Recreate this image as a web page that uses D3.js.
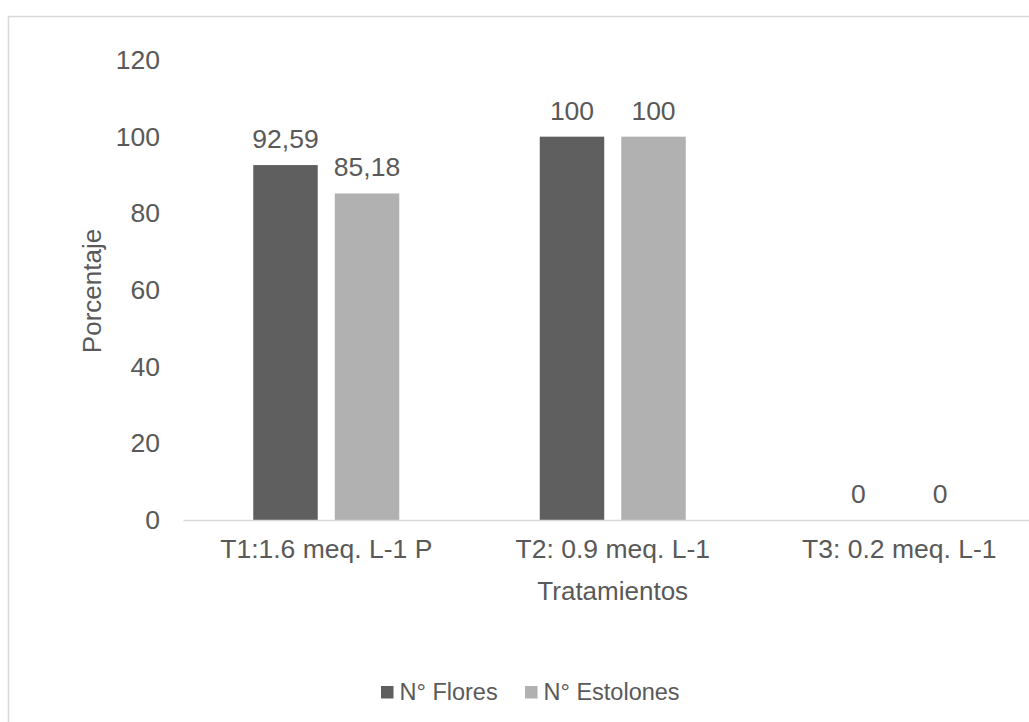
<!DOCTYPE html>
<html>
<head>
<meta charset="utf-8">
<script src="https://cdn.jsdelivr.net/npm/d3@7"></script>
<style>
  html, body { margin: 0; padding: 0; background: #fff; }
  svg { display: block; font-family: "Liberation Sans", Arial, sans-serif; }
</style>
</head>
<body>
<svg id="chart" width="1029" height="722"></svg>
<script>
// Treatments on the x axis
const categories = ["T1:1.6 meq. L-1 P", "T2: 0.9 meq. L-1", "T3: 0.2 meq. L-1"];
// Series and their percentages
const seriesNames = ["N° Flores", "N° Estolones"];
const flores = [92.59, 100, 0];
const estolones = [85.18, 100, 0];
const yTicks = [0, 20, 40, 60, 80, 100, 120];

const colors = ["#5f5f5f", "#b1b1b1"];
const textColor = "#595959";

const svg = d3.select("#chart");

// Chart frame (runs past the right and bottom edges)
svg.append("rect")
  .attr("x", 8.5).attr("y", 16.5)
  .attr("width", 1200).attr("height", 900)
  .attr("fill", "#fff")
  .attr("stroke", "#d9d9d9").attr("stroke-width", 1.5);

const plot = { left: 183, right: 1042.5, top: 60, bottom: 520 };

const x0 = d3.scaleBand().domain(categories).range([plot.left, plot.right]).padding(0);
const groupW = 146;
const x1 = d3.scaleBand().domain(seriesNames)
  .range([(x0.bandwidth() - groupW) / 2, (x0.bandwidth() + groupW) / 2])
  .paddingInner(0.209).paddingOuter(0);
const y = d3.scaleLinear().domain([0, 120]).range([plot.bottom, plot.top]);

const rows = categories.map((c, i) => ({ cat: c, values: [flores[i], estolones[i]] }));
const fmt = v => String(v).replace(".", ",");

// Y axis tick labels (no axis line, no ticks)
const yAxis = svg.append("g")
  .attr("transform", `translate(${plot.left},0)`)
  .call(d3.axisLeft(y).tickValues(yTicks).tickSize(0).tickPadding(23));
yAxis.select(".domain").remove();
yAxis.selectAll("text")
  .attr("fill", textColor).attr("font-size", "26.5px")
  .attr("font-family", "'Liberation Sans', Arial, sans-serif");

// Bars
const groups = svg.append("g").selectAll("g")
  .data(rows).join("g")
  .attr("transform", d => `translate(${x0(d.cat)},0)`);

groups.selectAll("rect")
  .data(d => d.values.map((v, j) => ({ s: seriesNames[j], v, j })))
  .join("rect")
  .attr("x", d => x1(d.s))
  .attr("width", x1.bandwidth())
  .attr("y", d => y(d.v))
  .attr("height", d => y(0) - y(d.v))
  .attr("fill", d => colors[d.j]);

// Value labels above bars
groups.selectAll("text.val")
  .data(d => d.values.map((v, j) => ({ s: seriesNames[j], v, j })))
  .join("text")
  .attr("class", "val")
  .attr("x", d => x1(d.s) + x1.bandwidth() / 2)
  .attr("y", d => y(d.v) - 17)
  .attr("text-anchor", "middle")
  .attr("fill", textColor)
  .attr("font-size", "26.5px")
  .text(d => fmt(d.v));

// X axis baseline and category labels
const xAxis = svg.append("g")
  .attr("transform", `translate(0,${plot.bottom})`)
  .call(d3.axisBottom(x0).tickSize(0).tickPadding(19));
xAxis.select(".domain")
  .attr("stroke", "#d9d9d9").attr("stroke-width", 1.5);
xAxis.selectAll("text")
  .attr("fill", textColor).attr("font-size", "26.5px")
  .attr("font-family", "'Liberation Sans', Arial, sans-serif");

// Axis titles
svg.append("text")
  .attr("x", (plot.left + plot.right) / 2).attr("y", 600)
  .attr("text-anchor", "middle").attr("fill", textColor)
  .attr("font-size", "26px").text("Tratamientos");

svg.append("text")
  .attr("transform", "translate(101,291) rotate(-90)")
  .attr("text-anchor", "middle").attr("fill", textColor)
  .attr("font-size", "26px").text("Porcentaje");

// Legend
const legendItems = [
  { name: seriesNames[0], x: 381 },
  { name: seriesNames[1], x: 525 }
];
const lg = svg.append("g").selectAll("g").data(legendItems).join("g");
lg.append("rect")
  .attr("x", d => d.x).attr("y", 686)
  .attr("width", 12.5).attr("height", 12.5)
  .attr("fill", (d, i) => colors[i]);
lg.append("text")
  .attr("x", d => d.x + 18.5).attr("y", 700)
  .attr("fill", textColor).attr("font-size", "23.5px")
  .text(d => d.name);
</script>
</body>
</html>
